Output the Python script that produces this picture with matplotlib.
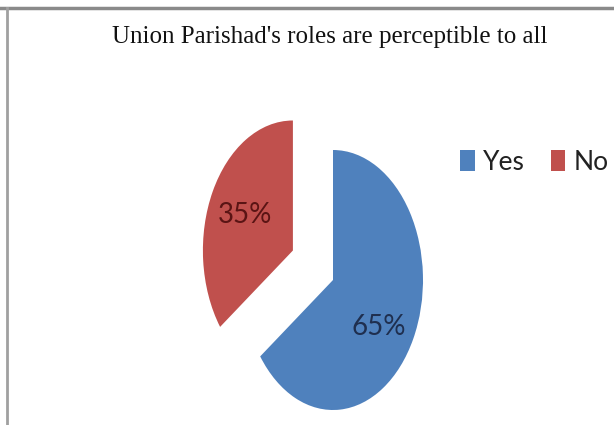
import matplotlib.pyplot as plt
from matplotlib.lines import Line2D

# Data
labels = ['Yes', 'No']
shares = [65, 35]
colors = ['#4F81BD', '#C0504D']
pct_colors = ['#1F2F4F', '#5A1414']
explode = [0, 0.5]
title = "Union Parishad's roles are perceptible to all"

narrow = ['Lato', 'DejaVu Sans']

fig = plt.figure(figsize=(6.14, 4.25), dpi=100)
ax = fig.add_axes([0, 0, 1, 1])

wedges, texts, autotexts = ax.pie(
    shares, labels=None, colors=colors, explode=explode,
    startangle=90, counterclock=False, autopct='%d%%',
    pctdistance=0.6, radius=1.0,
    textprops=dict(fontsize=20, family=narrow))
for t, c in zip(autotexts, pct_colors):
    t.set_color(c)
# the 65% label sits a bit lower in the original
x, y = autotexts[0].get_position()
autotexts[0].set_position((x - 0.03, y - 0.09))

# the original picture is squeezed sideways: 90 px across, 130 px high
ax.set_aspect('auto')
ax.set_xlim(-333 / 90, (614 - 333) / 90)
ax.set_ylim((280 - 425) / 130, 280 / 130)
ax.axis('off')

fig.text(0.537, 1 - 37 / 425, title, ha='center', va='center',
         fontsize=18, family=['Liberation Serif', 'DejaVu Serif'], color='#111111')

leg = fig.legend(wedges, labels, loc='center left',
                 bbox_to_anchor=(447 / 614, 1 - 162 / 425), ncol=2,
                 frameon=False, borderpad=0, handlelength=0.55, handleheight=0.85,
                 handletextpad=0.3, columnspacing=1.0,
                 prop=dict(size=19, family=narrow))
for t in leg.get_texts():
    t.set_color('#222222')

# grey frame on the top and left edges of the screenshot
fig.add_artist(Line2D([0, 1], [1 - 7.5 / 425] * 2, transform=fig.transFigure,
                      color='#8a8a8a', lw=2.5))
fig.add_artist(Line2D([7 / 614] * 2, [0, 1 - 7.5 / 425], transform=fig.transFigure,
                      color='#a0a0a0', lw=2))

fig.savefig('out.png', dpi=100)
